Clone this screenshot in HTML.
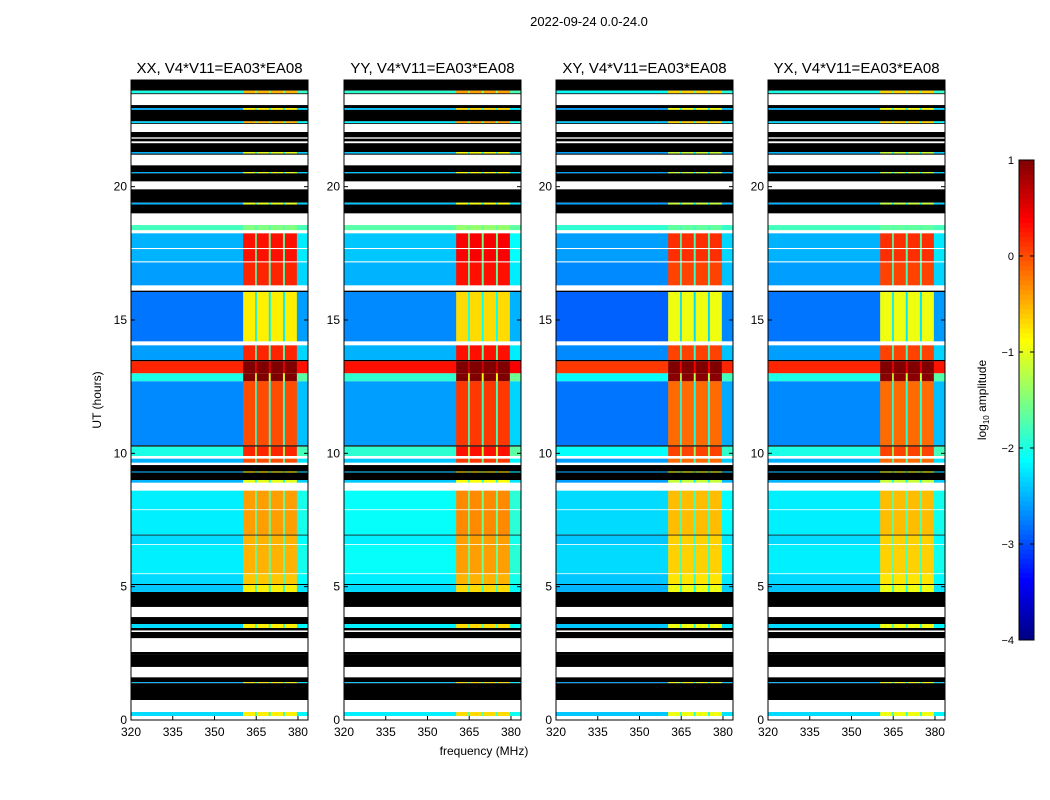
<!DOCTYPE html>
<html><head><meta charset="utf-8">
<style>
html,body{margin:0;padding:0;background:#fff;}
svg{display:block;font-family:"Liberation Sans","DejaVu Sans",sans-serif;}
</style></head>
<body>
<svg id="fig" width="1050" height="800" viewBox="0 0 1050 800">
<text x="589" y="26" font-size="13" text-anchor="middle">2022-09-24 0.0-24.0</text>
<text x="484" y="755" font-size="12" text-anchor="middle">frequency (MHz)</text>
<text x="101" y="400" font-size="12" text-anchor="middle" transform="rotate(-90 101 400)">UT (hours)</text>
<g id="panels"></g>
<g id="cbar"></g>
</svg>
<script>
// ---- data ----
const panelTitles = ["XX, V4*V11=EA03*EA08","YY, V4*V11=EA03*EA08","XY, V4*V11=EA03*EA08","YX, V4*V11=EA03*EA08"];
const panelBgOffset = [0, 0.1, -0.1, 0];
const panelBandOffset = [0, 0.1, -0.15, -0.15];
// channel edges (MHz) and band boost fraction per channel group
const chanEdges = [320,360.3,364.6,365.2,369.5,370.2,374.6,375.3,379.6,383.6];
const chanBoost = [0,1,0.3,1,0.3,1,0.3,1,0.1];
// time segments: start hour, end hour, kind (d=data,k=black,w=blank)
const segStart = [23.6,23.5,23.47,23.06,22.95,22.88,22.45,22.38,22.35,22.05,21.85,21.8,21.7,21.63,21.3,21.24,21.2,20.8,20.55,20.5,20.2,19.9,19.4,19.33,19.0,18.56,18.37,18.25,17.7,17.66,17.2,17.16,16.3,16.1,16.05,14.2,14.05,13.5,13.45,13.0,12.7,10.3,10.25,9.9,9.8,9.65,9.56,9.32,9.28,9.0,8.9,8.6,7.9,7.87,6.95,6.92,6.6,6.57,5.5,5.47,5.1,5.06,4.8,4.24,3.86,3.6,3.45,3.36,3.3,3.07,2.55,2.44,1.99,1.95,1.6,1.42,1.38,0.75,0.3,0.15,0];
const segEnd   = [24,23.6,23.5,23.47,23.06,22.95,22.88,22.45,22.38,22.35,22.05,21.85,21.8,21.7,21.63,21.3,21.24,21.2,20.8,20.55,20.5,20.2,19.9,19.4,19.33,19.0,18.56,18.37,18.25,17.7,17.66,17.2,17.16,16.3,16.1,16.05,14.2,14.05,13.5,13.45,13.0,12.7,10.3,10.25,9.9,9.8,9.65,9.56,9.32,9.28,9.0,8.9,8.6,7.9,7.87,6.95,6.92,6.6,6.57,5.5,5.47,5.1,5.06,4.8,4.24,3.86,3.6,3.45,3.36,3.3,3.07,2.55,2.44,1.99,1.95,1.6,1.42,1.38,0.75,0.3,0.15];
const segKind  = ["k","d","k","w","k","d","k","d","k","w","k","w","k","w","k","d","k","w","k","d","k","w","k","d","k","w","d","w","d","w","d","w","d","w","k","d","w","d","k","d","d","d","k","d","w","d","w","k","d","k","d","w","d","w","d","k","d","w","d","w","d","k","d","k","w","k","d","k","w","k","w","k","k","w","w","k","d","k","w","d","w"];
const segBg    = [0,-2,0,0,0,-2.5,0,-2.3,0,0,0,0,0,0,0,-2.5,0,0,0,-2.5,0,0,0,-2.5,0,0,-1.8,0,-2.5,0,-2.5,0,-2.6,0,0,-2.8,0,-2.6,0,0.2,-2.0,-2.7,0,-2.0,0,-2.5,0,0,-2.5,0,-2.5,0,-2.2,0,-2.2,0,-2.3,0,-2.2,0,-2.3,0,-2.4,0,0,0,-2.3,0,0,0,0,0,0,0,0,0,-2.5,0,0,-2.3,0];
const segBand  = [0,-0.5,0,0,0,-0.8,0,-0.5,0,0,0,0,0,0,0,-1,0,0,0,-1,0,0,0,-1,0,0,-1.5,0,0.3,0,0.3,0,0.2,0,0,-0.8,0,0.2,0,1.2,1.1,0.0,0,0.2,0,0,0,0,-0.8,0,-1,0,-0.4,0,-0.4,0,-0.5,0,-0.5,0,-0.6,0,-0.8,0,0,0,-0.8,0,0,0,0,0,0,0,0,0,-0.8,0,0,-0.8,0];
const xTicks = [320,335,350,365,380];
const yTicks = [0,5,10,15,20];
const cbTicks = [1,0,-1,-2,-3,-4];
const vmin=-4, vmax=1;
</script>
<script>
const NS="http://www.w3.org/2000/svg";
function mk(tag,attrs,parent){const e=document.createElementNS(NS,tag);for(const k in attrs)e.setAttribute(k,attrs[k]);parent.appendChild(e);return e;}
function jet(v){let t=(v-vmin)/(vmax-vmin);t=Math.max(0,Math.min(1,t));
 const c=x=>Math.round(255*Math.max(0,Math.min(1,x)));
 const r=c(Math.min(4*t-1.5,-4*t+4.5)),g=c(Math.min(4*t-0.5,-4*t+3.5)),b=c(Math.min(4*t+0.5,-4*t+2.5));
 return `rgb(${r},${g},${b})`;}
const panelX=[131,344,556,768], PW=177, PT=80, PB=720;
const fMin=320,fMax=383.6,tMax=24;
const panels=document.getElementById('panels');
panelX.forEach((x0,p)=>{
 const g=mk('g',{},panels);
 
 
 const xs=f=>x0+(f-fMin)/(fMax-fMin)*PW;
 const ys=h=>PB-(h/tMax)*(PB-PT);
 for(let s=0;s<segStart.length;s++){
  const y1=ys(segEnd[s]),y2=ys(segStart[s]);
  if(segKind[s]==='w') continue;
  if(segKind[s]==='k'){const r=mk('rect',{x:x0,y:y1,width:PW,height:Math.max(0.5,y2-y1),fill:'#000'},g);
   continue;}
  for(let c=0;c<chanBoost.length;c++){
   const bg=segBg[s]+panelBgOffset[p], band=segBand[s]+panelBandOffset[p];
   const v=bg+chanBoost[c]*(band-bg);
   const r=mk('rect',{x:xs(chanEdges[c]),y:y1,width:xs(chanEdges[c+1])-xs(chanEdges[c])+0.3,height:Math.max(0.5,y2-y1),fill:jet(v)},g);
   
   
  }
 }
 const fr=mk('rect',{x:x0,y:PT,width:PW,height:PB-PT,fill:'none',stroke:'#000','stroke-width':1},g);
 
 const t=mk('text',{x:x0+PW/2,y:PT-7,'font-size':15,'text-anchor':'middle'},g);t.textContent=panelTitles[p];
 
 xTicks.forEach(v=>{const X=xs(v);
  mk('line',{x1:X,x2:X,y1:PB,y2:PB-4,stroke:'#000'},g);mk('line',{x1:X,x2:X,y1:PT,y2:PT+4,stroke:'#000'},g);
  const l=mk('text',{x:X,y:PB+16,'font-size':12,'text-anchor':'middle'},g);l.textContent=v;
  });
 yTicks.forEach(v=>{const Y=ys(v);
  mk('line',{x1:x0,x2:x0+4,y1:Y,y2:Y,stroke:'#000'},g);mk('line',{x1:x0+PW,x2:x0+PW-4,y1:Y,y2:Y,stroke:'#000'},g);
  const l=mk('text',{x:x0-4,y:Y+4,'font-size':12,'text-anchor':'end'},g);l.textContent=v;
  });
});
// colorbar
const cb=document.getElementById('cbar');
const cx=1019,cw=15,ct=160,cbot=640;
const cys=v=>cbot-(v-vmin)/(vmax-vmin)*(cbot-ct);
for(let i=0;i<100;i++){const v0=vmin+i*(vmax-vmin)/100,v1=v0+(vmax-vmin)/100;
 const r=mk('rect',{x:cx,y:cys(v1),width:cw,height:cys(v0)-cys(v1)+0.5,fill:jet((v0+v1)/2)},cb);
 }
const cf=mk('rect',{x:cx,y:ct,width:cw,height:cbot-ct,fill:'none',stroke:'#000'},cb);

cbTicks.forEach(v=>{const Y=cys(v);
 mk('line',{x1:cx,x2:cx+4,y1:Y,y2:Y,stroke:'#000'},cb);mk('line',{x1:cx+cw,x2:cx+cw-4,y1:Y,y2:Y,stroke:'#000'},cb);
 const l=mk('text',{x:cx-5,y:Y+4,'font-size':11,'text-anchor':'end'},cb);l.textContent=(v<0?'\u2212'+(-v):String(v));
 });
const lab=mk('text',{x:986,y:400,'font-size':12,'text-anchor':'middle',transform:'rotate(-90 986 400)'},cb);
lab.innerHTML='log<tspan font-size="8" dy="3">10</tspan><tspan dy="-3"> amplitude</tspan>';


</script>
</body></html>
